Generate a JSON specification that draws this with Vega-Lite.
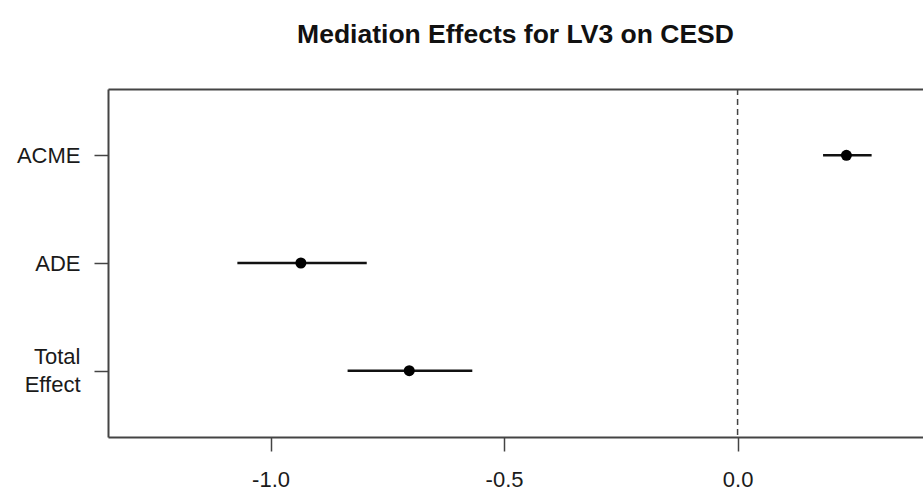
{
  "$schema": "https://vega.github.io/schema/vega-lite/v6.json",
  "width": 815,
  "height": 348,
  "autosize": {"type": "none"},
  "padding": {"left": 108, "top": 89, "right": 0, "bottom": 56},
  "background": "white",
  "config": {
    "view": {"stroke": null},
    "font": "Liberation Sans"
  },
  "title": {
    "text": "Mediation Effects for LV3 on CESD",
    "font": "Liberation Sans",
    "fontSize": 26.5,
    "fontWeight": "bold",
    "color": "#111111",
    "anchor": "middle",
    "offset": 40
  },
  "data": {
    "values": [
      {"effect": "ACME", "estimate": 0.233, "lower": 0.183, "upper": 0.287},
      {"effect": "ADE", "estimate": -0.935, "lower": -1.071, "upper": -0.794},
      {"effect": "Total Effect", "estimate": -0.703, "lower": -0.835, "upper": -0.568}
    ]
  },
  "layer": [
    {
      "data": {"values": [{"reference": 0}]},
      "mark": {"type": "rule", "color": "#444444", "strokeWidth": 1.5, "strokeDash": [6, 4]},
      "encoding": {
        "x": {
          "field": "reference",
          "type": "quantitative",
          "scale": {"domain": [-1.348, 0.397], "nice": false, "zero": false},
          "axis": null
        }
      }
    },
    {
      "mark": {"type": "rule", "color": "#111111", "strokeWidth": 2.5},
      "encoding": {
        "x": {
          "field": "lower",
          "type": "quantitative",
          "scale": {"domain": [-1.348, 0.397], "nice": false, "zero": false},
          "axis": {
            "orient": "bottom",
            "values": [-1, -0.5, 0],
            "labelExpr": "replace(format(datum.value, '.1f'), '\u2212', '-')",
            "title": null,
            "grid": false,
            "domainColor": "#444444",
            "domainWidth": 2,
            "tickColor": "#444444",
            "tickWidth": 1.5,
            "tickSize": 14,
            "labelFont": "Liberation Sans",
            "labelFontSize": 22,
            "labelColor": "#1a1a1a",
            "labelPadding": 18
          }
        },
        "x2": {"field": "upper"},
        "y": {
          "field": "effect",
          "type": "nominal",
          "sort": ["ACME", "ADE", "Total Effect"],
          "scale": {"type": "point", "padding": 0.616},
          "axis": {
            "title": null,
            "grid": false,
            "domainColor": "#444444",
            "domainWidth": 2,
            "tickColor": "#444444",
            "tickWidth": 1.5,
            "tickSize": 14,
            "labelFont": "Liberation Sans",
            "labelFontSize": 22,
            "labelColor": "#1a1a1a",
            "labelPadding": 14,
            "labelLineHeight": 28,
            "labelOffset": {"condition": {"test": "datum.value == 'Total Effect'", "value": -14}, "value": 0},
            "labelExpr": "datum.value == 'Total Effect' ? ['Total', 'Effect'] : datum.value"
          }
        }
      }
    },
    {
      "mark": {"type": "circle", "color": "#000000", "opacity": 1, "size": 121},
      "encoding": {
        "x": {
          "field": "estimate",
          "type": "quantitative",
          "scale": {"domain": [-1.348, 0.397], "nice": false, "zero": false},
          "axis": {
            "orient": "top",
            "title": null,
            "grid": false,
            "labels": false,
            "ticks": false,
            "domainColor": "#444444",
            "domainWidth": 2
          }
        },
        "y": {
          "field": "effect",
          "type": "nominal",
          "sort": ["ACME", "ADE", "Total Effect"],
          "scale": {"type": "point", "padding": 0.616},
          "axis": {
            "title": null,
            "grid": false,
            "domainColor": "#444444",
            "domainWidth": 2,
            "tickColor": "#444444",
            "tickWidth": 1.5,
            "tickSize": 14,
            "labelFont": "Liberation Sans",
            "labelFontSize": 22,
            "labelColor": "#1a1a1a",
            "labelPadding": 14,
            "labelLineHeight": 28,
            "labelOffset": {"condition": {"test": "datum.value == 'Total Effect'", "value": -14}, "value": 0},
            "labelExpr": "datum.value == 'Total Effect' ? ['Total', 'Effect'] : datum.value"
          }
        }
      }
    }
  ],
  "resolve": {"axis": {"x": "independent"}}
}
